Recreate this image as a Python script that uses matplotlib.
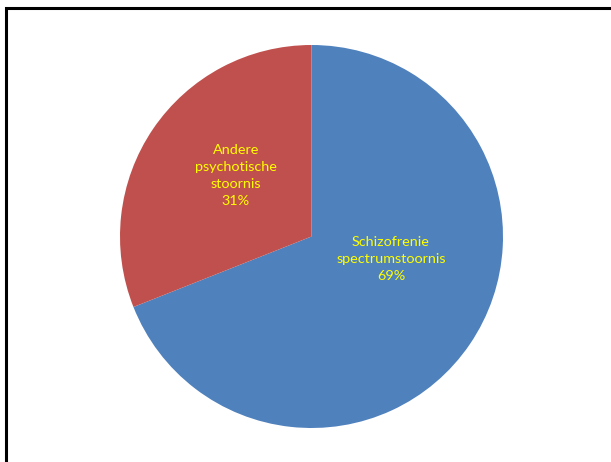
import matplotlib
matplotlib.use("Agg")
import matplotlib.pyplot as plt
from matplotlib.patches import Rectangle

categories = ["Schizofrenie\nspectrumstoornis", "Andere\npsychotische\nstoornis"]
values = [69, 31]
colors = ["#4F81BD", "#C0504D"]

plt.rcParams['font.family'] = ['Lato', 'DejaVu Sans']

W, H = 611, 462
fig = plt.figure(figsize=(W / 100, H / 100), dpi=100)
fig.patch.set_facecolor("white")

cx, cy, r = 311.5, 236.5, 191.5
ax = fig.add_axes([(cx - r) / W, (H - cy - r) / H, 2 * r / W, 2 * r / H])

wedges, texts, autotexts = ax.pie(
    values, colors=colors, startangle=90, counterclock=False,
    autopct=lambda p: "", radius=1.0, wedgeprops=dict(linewidth=0))
ax.set_xlim(-1, 1)
ax.set_ylim(-1, 1)
ax.set_aspect("equal")
ax.axis("off")

label_pos = [(0.415, -0.115), (-0.395, 0.32)]
for cat, val, at, pos in zip(categories, values, autotexts, label_pos):
    at.set_text(f"{cat}\n{val}%")
    at.set_position(pos)
    at.set_color("#FFFF00")
    at.set_fontsize(10.4)
    at.set_ha("center")
    at.set_va("center")
    at.set_linespacing(1.5)

fig.patches.append(Rectangle((6 / W, -0.1), 2.0, (H - 8) / H + 0.1,
                             transform=fig.transFigure, fill=False,
                             edgecolor="black", linewidth=2.2))

fig.savefig("out.png", dpi=100)
